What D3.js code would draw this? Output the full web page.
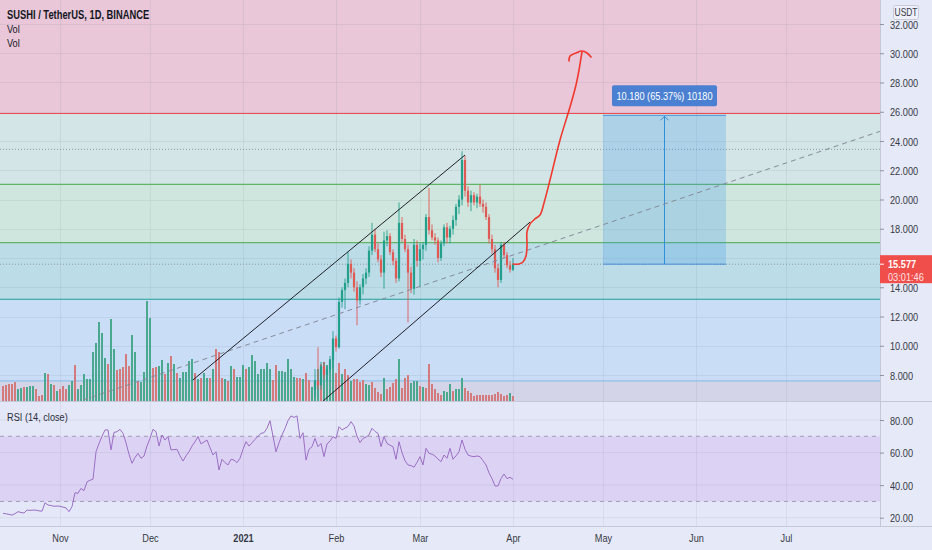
<!DOCTYPE html>
<html><head><meta charset="utf-8">
<script src="https://cdn.jsdelivr.net/npm/d3@7"></script>
<style>body{margin:0;background:#e6e9f8;}svg{display:block}</style>
</head><body><svg id="c" width="932" height="550"></svg>
<script>
// ---------------- DATA ----------------
const firstDay = "2020-10-13";           // index 0 of the daily series
const volume = [
15,16,17,17,19,12,13,14,14,15, 15,12,5,6,28,27,17,16,10,12,
15,12,16,20,36,12,16,27,22,22, 49,58,79,68,43,37,82,52,31,32,
34,47,35,66,49,20,19,29,100,83, 33,34,35,41,27,38,45,37,28,23,
29,29,40,42,28,22,23,28,23,23, 32,52,49,23,22,20,35,32,24,24,
36,32,34,46,40,27,32,32,38,32, 21,36,30,30,29,42,32,24,23,23,
22,28,21,14,21,32,37,39,36,42, 52,28,38,27,32,26,20,22,22,19,
21,17,16,19,13,9,7,23,12,14, 18,22,42,13,23,26,18,20,20,15,
14,13,37,17,12,8,6,10,9,17, 10,12,12,23,13,10,8,5,6,6,
6,6,6,6,7,9,7,5,6,8, 5];
const volumeUp =
"rrrrrggrgg"+"grrrgrgrgr"+"rrggrggggg"+"gggggrggrr"+"rrrggrgggg"+"rrggrgrgrg"+
"ggggrgrggr"+"grrrgrgrgg"+"grgggggggg"+"rrggggggrr"+"grrgggrggg"+"grrgrrgrrr"+
"rggrrrrgrr"+"rrgrrrgggr"+"grrrrrrggg"+"rgggrrrrrr"+"rrrrrrrrrg"+"r";
const rsi = [
22.7,22.4,22,21.6,22.5,23.7,23.2,22.9,24.7,24.5, 24.7,24.6,24.2,24,29.2,27.8,27.5,27,27.2,27,
26.5,26,23.7,26.8,35.3,35,38,36.6,42,43, 43.6,60.5,65.6,70,73.9,73.9,61.6,72.4,72.8,74.3,
71.8,66,59,53.4,57,59.5,56.5,57.9,64,68.7, 74.3,72.8,64,70.8,67.7,69.8,61.6,61.8,62,58,
54.8,58,60.5,64,66.7,69.8,65.3,66.5,67.7,63, 58.5,60.5,49.3,55.9,53.8,52.4,55.9,55.4,53.8,56.5,
62,66.7,64,66,68.1,70,71.8,72.2,74.9,79.6, 70,60.5,66,70.8,74.9,79.6,82.5,81.6,82.5,68.7,
72.2,55.4,62,63.6,68.7,63.6,65.6,57.5,65.3,67, 69.8,68.7,75.9,73.9,75,76,79,76.3,70,66.1,
68.7,69.5,70.8,74.9,73,71.8,63.6,69.8,65.6,64.5, 63.6,55.9,66.7,60,55,52.4,52,51,54,57.5,
52.4,62.6,59.5,59,57.9,56,54.4,58.5,56.5,62.6, 55.9,58,60.5,67.7,62,58.5,57.8,57.5,57.9,57.5,
55,52.4,47.5,44,39.5,39.5,44,46.8,44,44.8, 43.6];
const candleStart = 104;  // first candle whose price is inside the visible range
const open = [7.0,7.6,7.3,8.6,8.0,8.4,9.0,10.5,9.9,13.0, 13.8,14.3,15.6,15.0,14.0,13.1,14.0,14.6,15.0,16.5,
 17.6,16.6,15.9,15.0,17.2,17.5,16.4,15.8,14.6,18.4, 17.3,16.6,15.0,13.9,16.9,15.8,16.6,16.9,18.8,17.9,
 17.4,17.2,16.0,17.0,18.1,17.4,18.0,18.6,19.5,20.0, 22.7,20.6,19.8,20.3,19.8,20.2,19.7,19.5,18.8,17.3,
 16.6,15.3,14.5,16.9,16.2,15.5,15.2];
const high = [8.4,9.9,8.9,8.9,8.6,9.3,11.0,10.7,13.3,14.0, 14.6,16.4,15.9,15.3,14.4,14.2,14.9,15.3,16.8,18.4,
 18.0,17.0,16.2,17.8,17.9,17.7,16.6,16.0,19.8,18.8, 17.6,16.9,15.4,17.3,17.2,17.0,17.1,19.0,20.8,18.3,
 17.7,17.4,17.2,18.3,18.4,18.2,18.9,19.7,20.3,23.3, 23.0,20.9,20.6,20.5,20.4,21.0,20.0,19.8,19.0,17.6,
 16.9,15.6,17.1,17.1,16.4,15.8,16.0];
const low = [6.5,7.0,7.0,7.7,7.6,8.2,8.5,9.6,9.8,12.6, 12.5,14.0,14.6,13.7,11.4,12.8,13.5,14.2,14.7,16.2,
 16.4,15.7,14.7,13.9,16.8,16.2,15.5,14.3,14.4,17.1, 16.4,11.6,13.6,13.5,15.4,14.0,15.9,16.5,17.6,17.2,
 16.9,15.7,15.8,16.8,17.0,17.0,17.6,18.2,19.0,19.6, 20.2,19.5,19.2,19.6,19.4,19.5,19.1,18.6,17.0,16.3,
 15.0,14.0,14.3,16.0,15.3,15.0,15.1];
const close = [7.6,7.3,8.6,8.0,8.4,9.0,10.5,9.9,13.0,13.8, 14.3,15.6,15.0,14.0,13.1,14.0,14.6,15.0,16.5,17.6,
 16.6,15.9,15.0,17.2,17.5,16.4,15.8,14.6,18.4,17.3, 16.6,15.0,13.9,16.9,15.8,16.6,16.9,18.8,17.9,17.4,
 17.2,16.0,17.0,18.1,17.4,18.0,18.6,19.5,20.0,22.7, 20.6,19.8,20.3,19.8,20.2,19.7,19.5,18.8,17.3,16.6,
 15.3,14.5,16.9,16.2,15.5,15.2,15.577];
const priceTicks = [8,10,12,14,16,18,20,22,24,26,28,30,32];
const rsiTicks = [20,40,60,80];
const timeTickDates = ["2020-11-01","2020-12-01","2021-01-01","2021-02-01","2021-03-01","2021-04-01","2021-05-01","2021-06-01","2021-07-01"];
const timeTickLabels = ["Nov","Dec","2021","Feb","Mar","Apr","May","Jun","Jul"];
const zoneLevels = [7.6, 13.18, 17.05, 21.04, 25.88];   // horizontal zone borders
const dottedLevels = [23.43, 15.577];
const lastPrice = 15.577, countdown = "03:01:46";
// drawings: [day index, price]
const upperChannel = [[63.3,7.66],[154,23.04]];
const lowerChannel = [[106.3,6.15],[175.7,18.46]];
const trendDashed = [[26.7,6.29],[292.3,24.66]];
const arrowCurve = [[170,15.59],[172,15.59],[173.33,15.73],[174.33,16.14],[174.67,16.89],[174.67,17.78],[175.67,18.32],
 [177.33,18.67],[179,18.94],[180.33,19.76],[182.33,21.33],[185.67,24.07],[189,26.32],[191,27.83],[192,28.85],[192.67,29.68],[193,30.09]];
const arrowHead = [[188.67,29.47],[189,29.81],[191,30.02],[193,30.15],[194.67,30.02],[196,29.74]];
const position = {from:"2021-05-01", to:"2021-06-11", entry:15.577, target:25.757, text:"10.180 (65.37%) 10180"};

// ---------------- CHART ----------------
const svg = d3.select("#c");
const W = 932, PW = 880, PANE_B = 401, RSI_T = 402, RSI_B = 526;
const FONT = "'Liberation Sans', Arial, sans-serif";
const parse = d3.utcParse("%Y-%m-%d");
const d0 = parse(firstDay);
const dayDate = i => new Date(d0.getTime() + i*864e5);
const x = d3.scaleUtc().domain([d0, parse("2021-07-01")]).range([3, 786]);
const xi = i => x(dayDate(i));
const y = d3.scaleLinear().domain([8,32]).range([375,24]);
const yv = d3.scaleLinear().domain([0,100]).range([PANE_B, 301]);
const yr = d3.scaleLinear().domain([20,80]).range([517.7,420]);

function label(g, px, py, s, o={}) {
  return g.append("text").attr("transform", `translate(${px},${py}) scale(${o.sx||0.8},1)`)
    .attr("font-family", FONT).attr("font-size", o.size||11).attr("font-weight", o.weight||"normal")
    .attr("fill", o.fill||"#363a45").attr("text-anchor", o.anchor||"start").text(s);
}

svg.append("rect").attr("width", W).attr("height", 550).attr("fill", "#e6e9f8");
svg.append("clipPath").attr("id","pp").append("rect").attr("x",0).attr("y",0).attr("width",PW).attr("height",PANE_B);
const P = svg.append("g").attr("clip-path","url(#pp)");

// zones
const zoneColors = ["#d3d4e7","#c9ddf7","#bcdde8","#cfe6de","#d3e5e7","#e9c6d8"];
const bounds = [0, ...zoneLevels, 60];
for (let k=0;k<zoneColors.length;k++) {
  P.append("rect").attr("x",0).attr("width",PW)
   .attr("y", y(bounds[k+1])).attr("height", y(bounds[k]) - y(bounds[k+1])).attr("fill", zoneColors[k]);
}
// grid
const grid = P.append("g").attr("stroke","rgba(120,130,150,0.13)").attr("stroke-width",1);
priceTicks.forEach(t => grid.append("line").attr("x1",0).attr("x2",PW).attr("y1",Math.round(y(t))+0.5).attr("y2",Math.round(y(t))+0.5));
timeTickDates.forEach(t => grid.append("line").attr("x1",Math.round(x(parse(t)))+0.5).attr("x2",Math.round(x(parse(t)))+0.5).attr("y1",0).attr("y2",PANE_B));

// zone lines
const lineColors = ["#8fc0ea","#1e9e96","#62b566","#62b566","#f04a4a"];
zoneLevels.forEach((lv,k)=> P.append("line").attr("x1",0).attr("x2",PW)
  .attr("y1", y(lv)).attr("y2", y(lv)).attr("stroke", lineColors[k]).attr("stroke-width", 1.2));
dottedLevels.forEach(lv => P.append("line").attr("x1",0).attr("x2",PW).attr("y1",y(lv)).attr("y2",y(lv))
  .attr("stroke","#8d93a3").attr("stroke-width",1).attr("stroke-dasharray","1,2"));

// volume
const GREEN = "#22a08c", RED = "#e05a55";
volume.forEach((v,i)=>{
  const up = volumeUp[i] === "g";
  P.append("rect").attr("x", xi(i)-1).attr("width", 2).attr("y", yv(v)).attr("height", PANE_B - yv(v))
   .attr("fill", up ? "#49a88e" : "#d37a7d");
});

// candles
close.forEach((c,k)=>{
  const i = candleStart + k, o = open[k], up = c >= o, col = up ? GREEN : RED, cx = xi(i);
  P.append("line").attr("x1",cx).attr("x2",cx).attr("y1",y(high[k])).attr("y2",y(low[k])).attr("stroke",col).attr("stroke-width",0.9);
  const top = y(Math.max(o,c)), bot = y(Math.min(o,c));
  P.append("rect").attr("x",cx-1.1).attr("width",2.2).attr("y",top).attr("height",Math.max(1,bot-top)).attr("fill",col);
});

// position tool
const px0 = x(parse(position.from)), px1 = x(parse(position.to));
P.append("rect").attr("x",px0).attr("width",px1-px0).attr("y",y(position.target)).attr("height",y(position.entry)-y(position.target))
  .attr("fill","rgba(60,150,230,0.25)");
[position.target, position.entry].forEach(v => P.append("line").attr("x1",px0).attr("x2",px1).attr("y1",y(v)).attr("y2",y(v))
  .attr("stroke","#4a8fd4").attr("stroke-width",1));
const ax = (px0+px1)/2;
P.append("line").attr("x1",ax).attr("x2",ax).attr("y1",y(position.entry)).attr("y2",y(position.target)+1).attr("stroke","#2f8fd8").attr("stroke-width",1);
P.append("path").attr("d",`M${ax-4},${y(position.target)+5}L${ax},${y(position.target)+1}L${ax+4},${y(position.target)+5}`)
  .attr("fill","none").attr("stroke","#2f8fd8").attr("stroke-width",1);
P.append("rect").attr("x",ax-52.5).attr("y",y(position.target)-30).attr("width",105).attr("height",21).attr("rx",2).attr("fill","#4b7fd1");
label(P, ax, y(position.target)-15.5, position.text, {fill:"#ffffff", anchor:"middle", size:11.5});

// drawings
const dl = d3.line().x(d=>xi(d[0])).y(d=>y(d[1]));
P.append("path").attr("d", dl(trendDashed)).attr("stroke","#858b99").attr("stroke-width",1).attr("stroke-dasharray","5,4").attr("fill","none");
P.append("path").attr("d", dl(upperChannel)).attr("stroke","#1e2128").attr("stroke-width",1).attr("fill","none");
P.append("path").attr("d", dl(lowerChannel)).attr("stroke","#1e2128").attr("stroke-width",1).attr("fill","none");
const cl = d3.line().x(d=>xi(d[0])).y(d=>y(d[1])).curve(d3.curveCatmullRom);
P.append("path").attr("d", cl(arrowCurve)).attr("stroke","#f0392e").attr("stroke-width",1.6).attr("fill","none").attr("stroke-linecap","round");
P.append("path").attr("d", cl(arrowHead)).attr("stroke","#f0392e").attr("stroke-width",1.6).attr("fill","none").attr("stroke-linecap","round");

// pane separators
svg.append("line").attr("x1",0).attr("x2",W).attr("y1",401.5).attr("y2",401.5).attr("stroke","#c5c8d6");
svg.append("line").attr("x1",PW+0.5).attr("x2",PW+0.5).attr("y1",0).attr("y2",RSI_B).attr("stroke","#c5c8d6");
svg.append("line").attr("x1",0).attr("x2",W).attr("y1",RSI_B+0.5).attr("y2",RSI_B+0.5).attr("stroke","#c5c8d6");

// RSI pane
const R = svg.append("g");
R.append("rect").attr("x",0).attr("y",RSI_T).attr("width",PW).attr("height",RSI_B-RSI_T).attr("fill","#e4e7f8");
R.append("rect").attr("x",0).attr("y",yr(70)).attr("width",PW).attr("height",yr(30)-yr(70)).attr("fill","#dcd2f4");
rsiTicks.forEach(t => R.append("line").attr("x1",0).attr("x2",PW).attr("y1",yr(t)).attr("y2",yr(t)).attr("stroke","rgba(120,130,150,0.12)"));
timeTickDates.forEach(t => R.append("line").attr("x1",Math.round(x(parse(t)))+0.5).attr("x2",Math.round(x(parse(t)))+0.5).attr("y1",RSI_T).attr("y2",RSI_B).attr("stroke","rgba(120,130,150,0.12)"));
[70,30].forEach(t => R.append("line").attr("x1",0).attr("x2",PW).attr("y1",yr(t)).attr("y2",yr(t)).attr("stroke","#a09cb2").attr("stroke-dasharray","4,4"));
R.append("path").attr("d", d3.line().x((d,i)=>xi(i)).y(d=>yr(d))(rsi)).attr("fill","none").attr("stroke","#9b6fc4").attr("stroke-width",1);
label(R, 7, 421, "RSI (14, close)", {fill:"#2a2e39", size:11.5});

// price axis (tick labels hidden behind the last-price badge are skipped)
const badgeTop = y(lastPrice)-9, badgeBot = y(lastPrice)+19;
const visTicks = priceTicks.filter(t => y(t) < badgeTop - 4 || y(t) > badgeBot + 2);
const pa = svg.append("g").attr("transform",`translate(${PW},0)`)
  .call(d3.axisRight(y).tickValues(visTicks).tickSize(4).tickFormat(d3.format(".3f")));
pa.select(".domain").remove();
pa.selectAll("line").attr("stroke","#8f94a3");
pa.selectAll("text").attr("x",null).attr("dy","0.35em").attr("transform","translate(10,0) scale(0.8,1)")
  .attr("font-family",FONT).attr("font-size",11.5).attr("fill","#363a45");
// RSI axis
const ra = svg.append("g").attr("transform",`translate(${PW},0)`)
  .call(d3.axisRight(yr).tickValues(rsiTicks).tickSize(4).tickFormat(d3.format(".2f")));
ra.select(".domain").remove();
ra.selectAll("line").attr("stroke","#8f94a3");
ra.selectAll("text").attr("x",null).attr("dy","0.35em").attr("transform","translate(10,0) scale(0.8,1)")
  .attr("font-family",FONT).attr("font-size",11.5).attr("fill","#363a45");
// time axis
const ta = svg.append("g").attr("transform",`translate(0,${RSI_B})`)
  .call(d3.axisBottom(x).tickValues(timeTickDates.map(parse)).tickSize(0).tickPadding(8).tickFormat((d,i)=>timeTickLabels[i]));
ta.select(".domain").remove();
ta.selectAll("text").attr("transform","scale(0.8,1)").attr("font-family",FONT).attr("font-size",11.5)
  .attr("fill","#363a45").attr("font-weight",(d,i)=>timeTickLabels[i]==="2021"?"bold":"normal");

// USDT badge
svg.append("rect").attr("x",893.5).attr("y",5.5).attr("width",25).attr("height",14).attr("rx",2).attr("fill","#eef0fb").attr("stroke","#c9ccd8");
label(svg, 906, 16, "USDT", {anchor:"middle", size:10.5, fill:"#363a45"});

// last price label
svg.append("rect").attr("x",PW).attr("y",badgeTop).attr("width",W-PW).attr("height",28).attr("fill","#f04e4b");
svg.append("line").attr("x1",PW).attr("x2",PW+4).attr("y1",y(lastPrice)).attr("y2",y(lastPrice)).attr("stroke","#ffffff");
label(svg, 888, y(lastPrice)+4, d3.format(".3f")(lastPrice), {fill:"#ffffff", weight:"bold", size:11.5});
label(svg, 888, y(lastPrice)+16.5, countdown, {fill:"#ffe3e3", size:11.5});

// header
label(svg, 7, 18.5, "SUSHI / TetherUS, 1D, BINANCE", {weight:"bold", fill:"#131722", size:12, sx:0.78});
label(svg, 7, 33, "Vol", {fill:"#131722", size:11.5});
label(svg, 7, 47, "Vol", {fill:"#131722", size:11.5});
</script></body></html>
